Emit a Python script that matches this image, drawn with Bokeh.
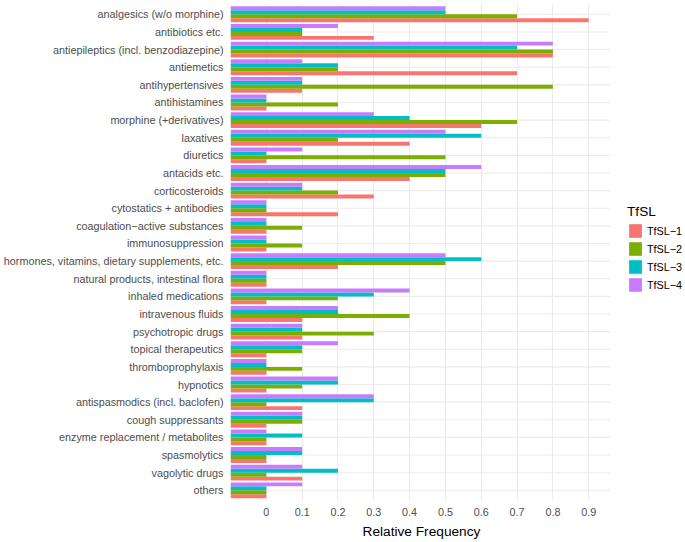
from bokeh.plotting import figure
from bokeh.models import Range1d, FixedTicker, Legend, LegendItem, ColumnDataSource, Title
from bokeh.transform import dodge
from bokeh.embed import file_html
from bokeh.resources import INLINE

categories = [
    "analgesics (w/o morphine)",
    "antibiotics etc.",
    "antiepileptics (incl. benzodiazepine)",
    "antiemetics",
    "antihypertensives",
    "antihistamines",
    "morphine (+derivatives)",
    "laxatives",
    "diuretics",
    "antacids etc.",
    "corticosteroids",
    "cytostatics + antibodies",
    "coagulation\u2212active substances",
    "immunosuppression",
    "hormones, vitamins, dietary supplements, etc.",
    "natural products, intestinal flora",
    "inhaled medications",
    "intravenous fluids",
    "psychotropic drugs",
    "topical therapeutics",
    "thromboprophylaxis",
    "hypnotics",
    "antispasmodics (incl. baclofen)",
    "cough suppressants",
    "enzyme replacement / metabolites",
    "spasmolytics",
    "vagolytic drugs",
    "others",
]

tfsl1 = [0.9, 0.3, 0.8, 0.7, 0.1, 0.0, 0.6, 0.4, 0.0, 0.4, 0.3, 0.2, 0.0, 0.0,
         0.2, 0.0, 0.0, 0.1, 0.1, 0.0, 0.0, 0.0, 0.1, 0.0, 0.0, 0.0, 0.1, 0.0]
tfsl2 = [0.7, 0.1, 0.8, 0.2, 0.8, 0.2, 0.7, 0.2, 0.5, 0.5, 0.2, 0.0, 0.1, 0.1,
         0.5, 0.0, 0.2, 0.4, 0.3, 0.1, 0.1, 0.1, 0.0, 0.1, 0.0, 0.0, 0.0, 0.0]
tfsl3 = [0.5, 0.1, 0.7, 0.2, 0.1, 0.0, 0.4, 0.6, 0.0, 0.5, 0.1, 0.0, 0.0, 0.0,
         0.6, 0.0, 0.3, 0.2, 0.1, 0.1, 0.0, 0.2, 0.3, 0.1, 0.1, 0.1, 0.2, 0.0]
tfsl4 = [0.5, 0.2, 0.8, 0.1, 0.1, 0.0, 0.3, 0.5, 0.1, 0.6, 0.1, 0.0, 0.0, 0.0,
         0.5, 0.0, 0.4, 0.2, 0.1, 0.2, 0.0, 0.2, 0.3, 0.1, 0.0, 0.1, 0.1, 0.1]

series_names = ["TfSL\u22121", "TfSL\u22122", "TfSL\u22123", "TfSL\u22124"]
series_colors = ["#F8766D", "#7CAE00", "#00BFC4", "#C77CFF"]
x_ticks = [0, 0.1, 0.2, 0.3, 0.4, 0.5, 0.6, 0.7, 0.8, 0.9]
x_tick_labels = ["0", "0.1", "0.2", "0.3", "0.4", "0.5", "0.6", "0.7", "0.8", "0.9"]
x_title = "Relative Frequency"
legend_title = "TfSL"

n = len(categories)
ypos = [n - 1 - i for i in range(n)]
source = ColumnDataSource(dict(y=ypos, s1=tfsl1, s2=tfsl2, s3=tfsl3, s4=tfsl4))

X_START = -0.1      # left edge of the panel (bars start here)
X_END = 0.9585      # right edge of the gridded panel
X_VIEW_END = 1.1702  # extra room on the right for the legend

p = figure(width=685, height=542, output_backend="svg", toolbar_location=None,
           title=None,
           x_range=Range1d(X_START, X_VIEW_END), y_range=Range1d(-0.578, n - 1 + 0.613),
           min_border_left=229, min_border_right=0, min_border_top=3,
           min_border_bottom=42)
p.outline_line_color = None
p.background_fill_color = "white"
p.border_fill_color = "white"

# horizontal grid lines limited to the panel
p.segment(x0=X_START, x1=X_END, y0="y", y1="y", source=source,
          line_color="#EBEBEB", line_width=1.1, level="underlay")

bar_h = 0.225
offsets = [-1.5 * bar_h, -0.5 * bar_h, 0.5 * bar_h, 1.5 * bar_h]
renderers = []
for col, off, color in zip(["s1", "s2", "s3", "s4"], offsets, series_colors):
    r = p.hbar(y=dodge("y", off), left=X_START, right=col, height=bar_h,
               source=source, fill_color=color, line_color=None)
    renderers.append(r)

# axes
p.xaxis.ticker = FixedTicker(ticks=x_ticks)
p.xaxis.major_label_overrides = {t: l for t, l in zip(x_ticks, x_tick_labels)}
p.xaxis.bounds = (X_START, X_END)
p.yaxis.ticker = FixedTicker(ticks=ypos)
p.yaxis.major_label_overrides = {y: c for y, c in zip(ypos, categories)}

for ax in (p.xaxis[0], p.yaxis[0]):
    ax.axis_line_color = None
    ax.major_tick_line_color = None
    ax.minor_tick_line_color = None
    ax.major_tick_out = 0
    ax.major_tick_in = 0
    ax.minor_tick_out = 0
    ax.minor_tick_in = 0
    ax.major_label_text_color = "#4D4D4D"
    ax.major_label_text_font = "Liberation Sans"

p.yaxis.major_label_text_font_size = "10.8px"
p.yaxis.major_label_standoff = 7
p.xaxis.major_label_text_font_size = "10.8px"
p.xaxis.major_label_standoff = 7

# x-axis title, centred under the gridded panel (not the legend area)
p.add_layout(Title(text=x_title, align="left", offset=132, standoff=6,
                   text_font="Liberation Sans", text_font_size="13.7px",
                   text_font_style="normal", text_color="black"), "below")

p.xgrid.grid_line_color = "#EBEBEB"
p.xgrid.grid_line_width = 1.1
p.ygrid.grid_line_color = None

legend = Legend(
    items=[LegendItem(label=nm, renderers=[r]) for nm, r in zip(series_names, renderers)],
    location=(397, 207),
    title=legend_title,
    title_text_font="Liberation Sans",
    title_text_font_size="13.7px",
    title_text_font_style="normal",
    title_text_color="black",
    title_standoff=3,
    label_text_font="Liberation Sans",
    label_text_font_size="10.8px",
    label_text_color="black",
    glyph_width=16,
    glyph_height=17,
    label_height=17,
    label_standoff=4,
    spacing=1,
    padding=0,
    margin=0,
    border_line_color=None,
    background_fill_alpha=0,
)
p.add_layout(legend, "center")

open("out.html", "w").write(file_html(p, INLINE))
